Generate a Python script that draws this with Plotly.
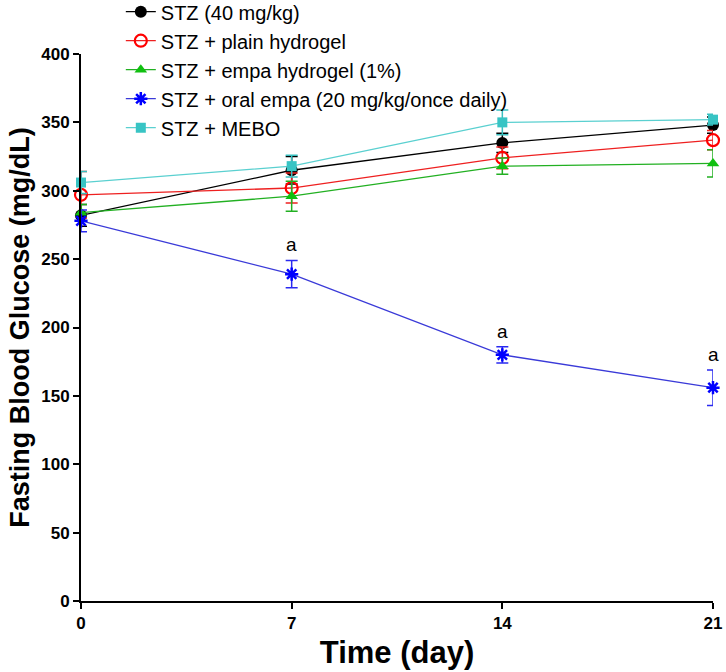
import plotly.graph_objects as go

# days of measurement
days = [0, 7, 14, 21]

# fasting blood glucose (mg/dL), mean and error
stz = [282, 315, 335, 348]
stz_err = [8, 10, 7, 6]
plain_gel = [297, 302, 324, 337]
plain_gel_err = [17, 11, 8, 7]
empa_gel = [284, 296, 318, 320]
empa_gel_err = [6, 11, 6, 10]
oral_empa = [278, 239, 180, 156]
oral_empa_err = [8, 10, 6, 13]
mebo = [306, 318, 350, 352]
mebo_err = [8, 8, 9, 4]

names = ["STZ (40 mg/kg)", "STZ + plain hydrogel", "STZ + empa hydrogel (1%)",
         "STZ + oral empa (20 mg/kg/once daily)", "STZ + MEBO"]

# significance letters for oral empa
sig_days = [7, 14, 21]
sig_text = ["a", "a", "a"]

FONT = "Liberation Sans, Arial, sans-serif"

series = [
    (stz, stz_err, "#000000", "#000000",
     dict(symbol="circle", size=12, color="#000000")),
    (plain_gel, plain_gel_err, "#ee2020", "#ee2020",
     dict(symbol="circle-open", size=12, color="#ff0000", line=dict(width=2.2, color="#ff0000"))),
    (empa_gel, empa_gel_err, "#22b022", "#22b022",
     dict(symbol="triangle-up", size=11, color="#10c010")),
    (oral_empa, oral_empa_err, "#3a3ad8", "#2a2af0",
     dict(symbol="asterisk-open", size=11, color="#0000ff", line=dict(width=2.5, color="#0000ff"))),
    (mebo, mebo_err, "#5ad0d0", "#38c0c0",
     dict(symbol="square", size=10, color="#38c4c4")),
]

fig = go.Figure()

for i, (y, err, lcol, ecol, mk) in enumerate(series):
    fig.add_trace(go.Scatter(
        x=days, y=y,
        mode="lines+markers",
        name=names[i],
        legendgroup="g" + str(i),
        line=dict(color=lcol, width=1.3),
        marker=mk,
        error_y=dict(type="data", array=err, visible=True, color=ecol, thickness=1.5, width=6),
        cliponaxis=False,
    ))

# letters above oral empa error bars
for d, t in zip(sig_days, sig_text):
    k = days.index(d)
    fig.add_annotation(x=d, y=oral_empa[k] + oral_empa_err[k], text=t, showarrow=False,
                       yanchor="bottom", yshift=3, font=dict(size=19, color="black", family=FONT))

axis_common = dict(
    showline=True, linecolor="black", linewidth=2,
    ticks="outside", ticklen=6, tickwidth=2, tickcolor="black",
    showgrid=False, zeroline=False,
    tickfont=dict(size=17, color="black", family=FONT, weight="bold"),
)

fig.update_layout(
    width=726, height=672,
    paper_bgcolor="white", plot_bgcolor="white",
    margin=dict(l=81, r=13, t=54, b=71, autoexpand=False),
    font=dict(family=FONT, color="black"),
    xaxis=dict(axis_common, range=[0, 21], tickvals=days,
               title=dict(text="<b>Time (day)</b>", font=dict(size=31), standoff=9)),
    yaxis=dict(axis_common, range=[0, 400], tickvals=list(range(0, 401, 50)),
               title=dict(text="<b>Fasting Blood Glucose (mg/dL)</b>", font=dict(size=27), standoff=4)),
    legend=dict(x=0.063, y=1.113, xanchor="left", yanchor="top",
                bgcolor="rgba(0,0,0,0)", font=dict(size=20, color="black"),
                tracegroupgap=0),
    showlegend=True,
)

# page body has a default margin, drop it so the figure fills the window
fig.write_html("out.html", config={"displayModeBar": False},
               post_script="document.body.style.margin='0';")
